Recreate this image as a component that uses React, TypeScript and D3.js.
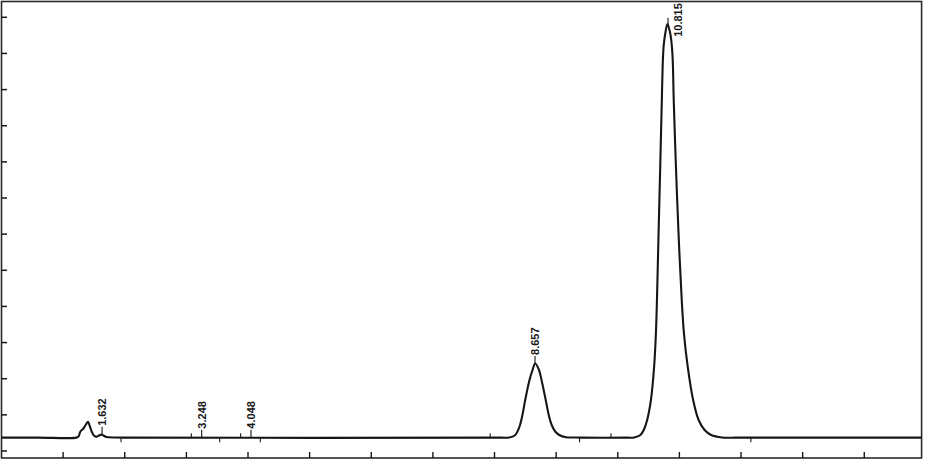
import React from 'react';
import * as d3 from 'd3';

// Chromatogram trace (time in min, signal in detector units)
const traceTimes = [
  0, 0.6, 1.216, 1.249, 1.281, 1.33, 1.37, 1.403, 1.427, 1.46, 1.5, 1.541, 1.589, 1.622, 1.654, 1.703, 1.849, 2.0,
  8.1, 8.239, 8.328, 8.368, 8.409, 8.45, 8.498, 8.568, 8.617, 8.66, 8.722, 8.763, 8.831, 8.88, 8.928, 8.985, 9.05, 9.163, 9.309, 9.4,
  10.15, 10.266, 10.368, 10.422, 10.477, 10.538, 10.59, 10.619, 10.636, 10.662, 10.689, 10.715, 10.732, 10.746, 10.772, 10.806,
  10.85, 10.876, 10.892, 10.908, 10.944, 10.986, 11.038, 11.074, 11.135, 11.223, 11.312, 11.409, 11.515, 11.693, 11.904, 12.0, 14.93,
];
const traceSignals = [
  3.7, 3.7, 3.7, 4.01, 5.4, 6.23, 7.33, 8.11, 7.19, 5.53, 4.29, 3.93, 4.34, 4.57, 4.29, 3.87, 3.74, 3.7,
  3.7, 3.74, 4.29, 5.26, 6.92, 9.68, 14.11, 19.65, 22.41, 24.21, 22.41, 19.65, 14.11, 9.96, 7.19, 5.4, 4.43, 3.79, 3.74, 3.7,
  3.7, 3.74, 4.43, 5.81, 8.58, 14.11, 23.33, 32.57, 41.78, 60.24, 78.67, 97.12, 108.19, 112.34, 115.66, 118.15,
  115.66, 112.34, 108.19, 97.12, 78.67, 60.24, 41.78, 32.57, 23.33, 14.11, 8.58, 5.81, 4.43, 3.74, 3.7, 3.7, 3.7,
];

const peakTimes = [1.632, 3.248, 4.048, 8.657, 10.815];
const peakLabels = ['1.632', '3.248', '4.048', '8.657', '10.815'];

const eventStartTimes = [3.08, 3.88, 7.93, 9.89];
const eventEndTimes = [1.94, 3.54, 4.2, 9.38, 12.16];

const xTickValues = [1, 2, 3, 4, 5, 6, 7, 8, 9, 10, 11, 12, 13, 14];
const yTickValues = [0, 10, 20, 30, 40, 50, 60, 70, 80, 90, 100, 110, 120];

const W = 925;
const H = 460;

export default function App() {
  const x = d3.scaleLinear().domain([0, 14.93]).range([1.5, 1 + 61.66 * 14.93]);
  const y = d3.scaleLinear().domain([0, 120]).range([451, 17.3]);
  const interp = d3.scaleLinear().domain(traceTimes).range(traceSignals);
  const baseV = 3.7;

  const pts: [number, number][] = traceTimes.map((t, i) => [t, traceSignals[i]]);
  const line = d3
    .line<[number, number]>()
    .x((d) => x(d[0]))
    .y((d) => y(d[1]))
    .curve(d3.curveCatmullRom.alpha(0.5));

  const frameTop = 1.5;
  const frameBottom = 458;
  const x0 = x(0);
  const x1 = x(14.93);
  const ink = '#161616';
  const font = "'Liberation Sans', Arial, sans-serif";

  return (
    <svg
      width={W}
      height={H}
      style={{ position: 'absolute', left: 0, top: 0, background: '#fff' }}
    >
      <rect x={0} y={0} width={W} height={H} fill="#fff" />
      {/* frame */}
      <rect
        x={x0}
        y={frameTop}
        width={x1 - x0}
        height={frameBottom - frameTop}
        fill="none"
        stroke="#2a2a2a"
        strokeWidth={1.6}
      />
      {/* y ticks */}
      {yTickValues.map((v) => (
        <line key={'y' + v} x1={x0} x2={x0 + 5.5} y1={y(v)} y2={y(v)} stroke={ink} strokeWidth={1.5} />
      ))}
      {/* x ticks */}
      {xTickValues.map((t) => (
        <line key={'x' + t} x1={x(t)} x2={x(t)} y1={frameBottom} y2={frameBottom - 6} stroke={ink} strokeWidth={1.4} />
      ))}
      {/* integration events */}
      {eventStartTimes.map((t) => (
        <line key={'s' + t} x1={x(t)} x2={x(t)} y1={y(baseV)} y2={y(baseV) - 4.5} stroke={ink} strokeWidth={1.1} />
      ))}
      {eventEndTimes.map((t) => (
        <line key={'e' + t} x1={x(t)} x2={x(t)} y1={y(baseV)} y2={y(baseV) + 4.5} stroke={ink} strokeWidth={1.1} />
      ))}
      {/* trace */}
      <path d={line(pts) || ''} fill="none" stroke={ink} strokeWidth={2.1} strokeLinejoin="round" />
      {/* peak markers and labels */}
      {peakTimes.map((t, i) => {
        const px = x(t);
        const py = y(interp(t));
        const len = peakLabels[i].length * 6;
        const shifted = py - 9 - len < 2;
        const tx = shifted ? px + 10.5 : px;
        const ty = shifted ? py + 11 : py - 9;
        return (
          <g key={'p' + i}>
            <line x1={px} x2={px} y1={py - 0.5} y2={py - 8} stroke={ink} strokeWidth={1.1} />
            <text
              transform={`translate(${tx},${ty}) rotate(-90)`}
              textAnchor="start"
              dy="0.36em"
              fontFamily={font}
              fontSize={11}
              fontWeight="bold"
              fill={ink}
            >
              {peakLabels[i]}
            </text>
          </g>
        );
      })}
    </svg>
  );
}
